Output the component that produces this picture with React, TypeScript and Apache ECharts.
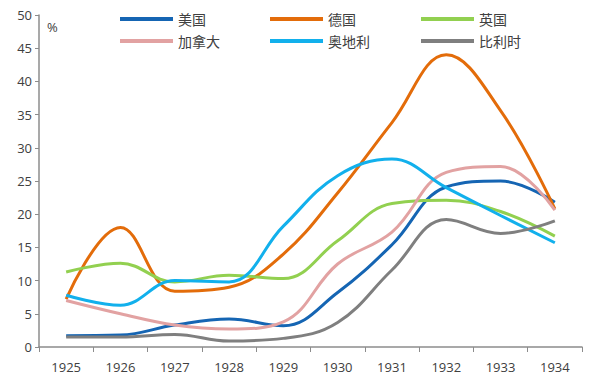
import React, { useEffect, useRef } from "react";
import * as echarts from "echarts";

const years = ["1925", "1926", "1927", "1928", "1929", "1930", "1931", "1932", "1933", "1934"];
const usa = [1.7, 1.8, 3.3, 4.2, 3.2, 8.2, 15.4, 24.1, 25.0, 21.8];
const germany = [7.2, 18.0, 8.4, 9.0, 14.0, 23.2, 33.8, 44.0, 35.6, 20.8];
const uk = [11.3, 12.6, 9.8, 10.8, 10.3, 16.0, 21.6, 22.1, 20.4, 16.7];
const canada = [7.0, 5.0, 3.3, 2.7, 3.8, 12.5, 17.3, 26.3, 27.2, 20.6];
const austria = [7.8, 6.3, 10.0, 9.8, 18.2, 25.8, 28.3, 24.0, 19.8, 15.7];
const belgium = [1.5, 1.5, 1.9, 0.9, 1.3, 3.7, 11.6, 19.2, 17.1, 19.0];

const seriesDefs = [
  { name: "美国", data: usa, color: "#1565b3" },
  { name: "德国", data: germany, color: "#e36c0a" },
  { name: "英国", data: uk, color: "#92d050" },
  { name: "加拿大", data: canada, color: "#e2a2a2" },
  { name: "奥地利", data: austria, color: "#12b0ec" },
  { name: "比利时", data: belgium, color: "#7f7f7f" },
];

const legendCols = [
  { left: 115, items: ["美国", "加拿大"] },
  { left: 265, items: ["德国", "奥地利"] },
  { left: 416, items: ["英国", "比利时"] },
];

export default function App() {
  const ref = useRef<HTMLDivElement>(null);
  useEffect(() => {
    const chart = echarts.init(ref.current!, null, { renderer: "svg" });
    const textColor = "#404040";
    chart.setOption({
      animation: false,
      backgroundColor: "#ffffff",
      grid: { left: 39, right: 8, top: 15, bottom: 37, containLabel: false },
      legend: legendCols.map((c) => ({
        orient: "vertical",
        left: c.left,
        top: 7,
        itemWidth: 53,
        itemHeight: 4,
        itemGap: 8,
        icon: "rect",
        data: c.items,
        textStyle: { color: textColor, fontSize: 14, fontFamily: "Noto Sans CJK SC" },
      })),
      xAxis: {
        type: "category",
        data: years,
        boundaryGap: true,
        axisLine: { lineStyle: { color: "#8c8c8c", width: 1.5 } },
        axisTick: { show: true, length: 5, lineStyle: { color: "#8c8c8c" } },
        axisLabel: { color: textColor, fontSize: 13, margin: 13, fontFamily: "Open Sans" },
        splitLine: { show: false },
      },
      yAxis: {
        type: "value",
        min: 0,
        max: 50,
        interval: 5,
        axisLine: { show: true, lineStyle: { color: "#8c8c8c", width: 1.5 } },
        axisTick: { show: true, length: 4, lineStyle: { color: "#8c8c8c" } },
        axisLabel: { color: textColor, fontSize: 13, margin: 7, fontFamily: "Open Sans" },
        splitLine: { show: false },
      },
      graphic: [
        {
          type: "text",
          left: 47,
          top: 20,
          style: { text: "%", fill: textColor, fontSize: 13, fontFamily: "Open Sans" },
        },
      ],
      series: seriesDefs.map((s) => ({
        name: s.name,
        type: "line",
        data: s.data,
        smooth: 0.4,
        showSymbol: false,
        symbol: "none",
        lineStyle: { color: s.color, width: 3 },
        itemStyle: { color: s.color },
      })),
    });
    return () => chart.dispose();
  }, []);
  return <div ref={ref} style={{ width: 590, height: 384, position: "absolute", left: 0, top: 0 }} />;
}
